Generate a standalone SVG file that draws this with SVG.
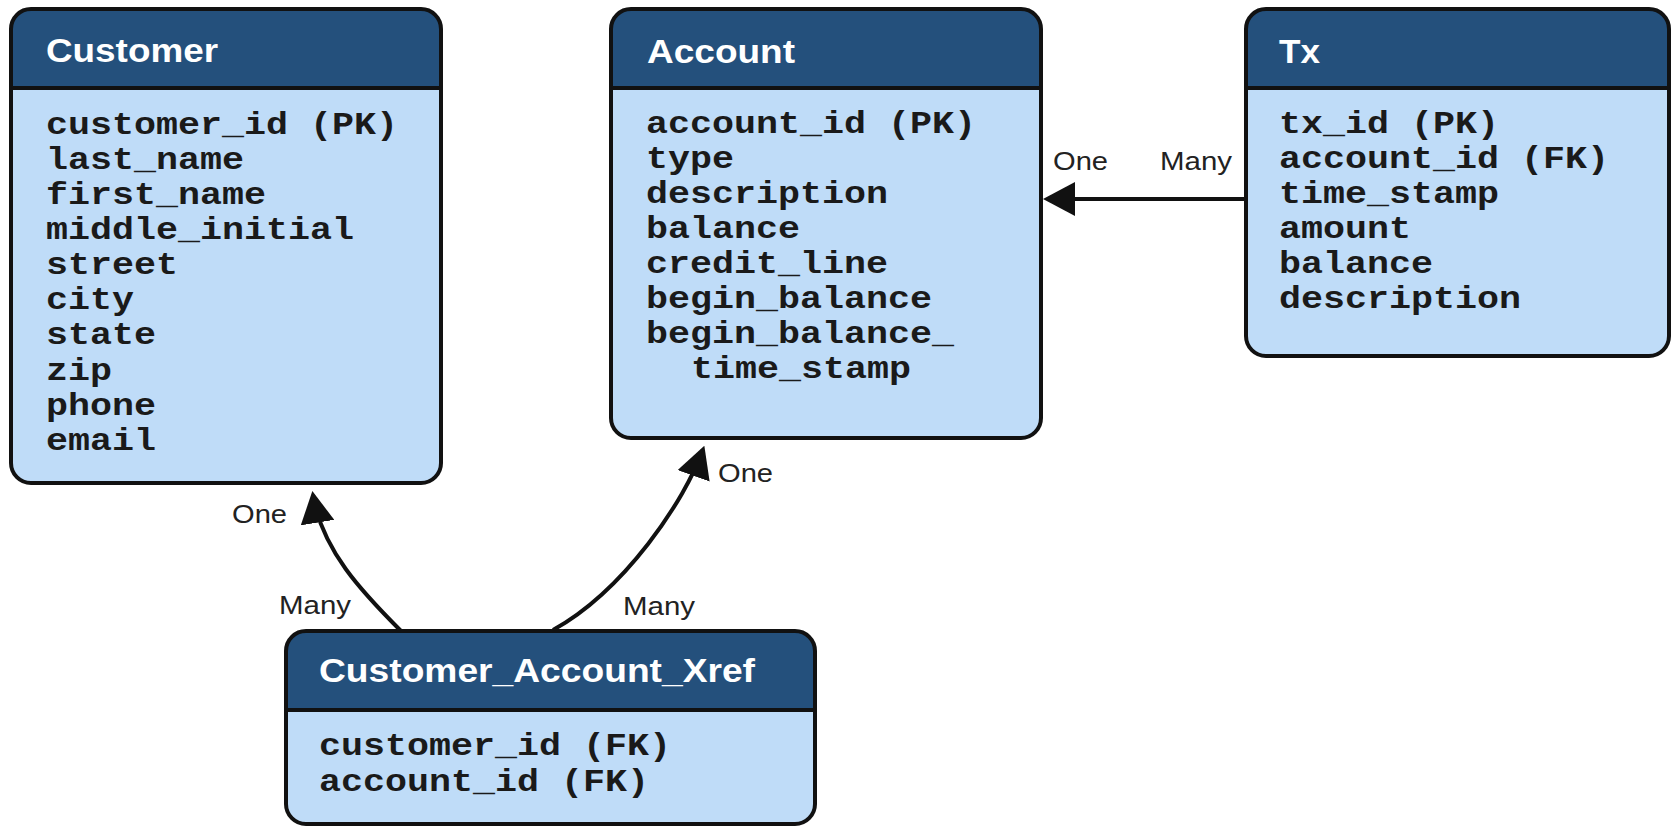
<svg xmlns="http://www.w3.org/2000/svg" width="1673" height="828" viewBox="0 0 1673 828">
<style>
.body{fill:#bfdcf8;stroke:none}
.head{fill:#24507c;stroke:none}
.frame{fill:none;stroke:#111;stroke-width:4}
.div{stroke:#111;stroke-width:4}
.title{font-family:"Liberation Sans",Arial,sans-serif;font-weight:bold;font-size:34px;fill:#fff}
.field{font-family:"Liberation Mono","Courier New",monospace;font-weight:bold;font-size:32px;fill:#1a1a1a}
.lbl{font-family:"Liberation Sans",Arial,sans-serif;font-size:25px;fill:#222}
.conn{fill:none;stroke:#111;stroke-width:4}
</style>
<defs>
<marker id="arr" markerUnits="userSpaceOnUse" markerWidth="32" markerHeight="34" refX="28" refY="17" orient="auto">
<path d="M0,0 L32,17 L0,34 Z" fill="#111"/>
</marker>
</defs>
<rect width="1673" height="828" fill="#fff"/>

<g id="connectors">
<path class="conn" d="M1244,199 L1047,199" marker-end="url(#arr)"/>
<path class="conn" d="M401,631 C362,592 322,550 313,495" marker-end="url(#arr)"/>
<path class="conn" d="M553,630 C625,590 685,500 703,449.5" marker-end="url(#arr)"/>
<text class="lbl" x="1053" y="170" textLength="55" lengthAdjust="spacingAndGlyphs">One</text>
<text class="lbl" x="1160" y="170" textLength="72" lengthAdjust="spacingAndGlyphs">Many</text>
<text class="lbl" x="232" y="523" textLength="55" lengthAdjust="spacingAndGlyphs">One</text>
<text class="lbl" x="279" y="614" textLength="72" lengthAdjust="spacingAndGlyphs">Many</text>
<text class="lbl" x="718" y="482" textLength="55" lengthAdjust="spacingAndGlyphs">One</text>
<text class="lbl" x="623" y="615" textLength="72" lengthAdjust="spacingAndGlyphs">Many</text>
</g>

<g id="customer">
<rect class="body" x="11" y="9" width="430" height="474" rx="20"/>
<path class="head" d="M11,88 V29 A20,20 0 0 1 31,9 H421 A20,20 0 0 1 441,29 V88 Z"/>
<line class="div" x1="11" y1="88" x2="441" y2="88"/>
<rect class="frame" x="11" y="9" width="430" height="474" rx="20"/>
<text class="title" x="46" y="62" textLength="172" lengthAdjust="spacingAndGlyphs">Customer</text>
<text class="field" x="46" y="134" textLength="352" lengthAdjust="spacingAndGlyphs">customer_id (PK)</text>
<text class="field" x="46" y="169" textLength="198" lengthAdjust="spacingAndGlyphs">last_name</text>
<text class="field" x="46" y="204" textLength="220" lengthAdjust="spacingAndGlyphs">first_name</text>
<text class="field" x="46" y="239" textLength="308" lengthAdjust="spacingAndGlyphs">middle_initial</text>
<text class="field" x="46" y="274" textLength="132" lengthAdjust="spacingAndGlyphs">street</text>
<text class="field" x="46" y="309" textLength="88" lengthAdjust="spacingAndGlyphs">city</text>
<text class="field" x="46" y="344" textLength="110" lengthAdjust="spacingAndGlyphs">state</text>
<text class="field" x="46" y="380" textLength="66" lengthAdjust="spacingAndGlyphs">zip</text>
<text class="field" x="46" y="415" textLength="110" lengthAdjust="spacingAndGlyphs">phone</text>
<text class="field" x="46" y="450" textLength="110" lengthAdjust="spacingAndGlyphs">email</text>
</g>

<g id="account">
<rect class="body" x="611" y="9" width="430" height="429" rx="20"/>
<path class="head" d="M611,88 V29 A20,20 0 0 1 631,9 H1021 A20,20 0 0 1 1041,29 V88 Z"/>
<line class="div" x1="611" y1="88" x2="1041" y2="88"/>
<rect class="frame" x="611" y="9" width="430" height="429" rx="20"/>
<text class="title" x="647" y="63" textLength="148" lengthAdjust="spacingAndGlyphs">Account</text>
<text class="field" x="646" y="133" textLength="330" lengthAdjust="spacingAndGlyphs">account_id (PK)</text>
<text class="field" x="646" y="168" textLength="88" lengthAdjust="spacingAndGlyphs">type</text>
<text class="field" x="646" y="203" textLength="242" lengthAdjust="spacingAndGlyphs">description</text>
<text class="field" x="646" y="238" textLength="154" lengthAdjust="spacingAndGlyphs">balance</text>
<text class="field" x="646" y="273" textLength="242" lengthAdjust="spacingAndGlyphs">credit_line</text>
<text class="field" x="646" y="308" textLength="286" lengthAdjust="spacingAndGlyphs">begin_balance</text>
<text class="field" x="646" y="343" textLength="308" lengthAdjust="spacingAndGlyphs">begin_balance_</text>
<text class="field" x="691" y="378" textLength="220" lengthAdjust="spacingAndGlyphs">time_stamp</text>
</g>

<g id="tx">
<rect class="body" x="1246" y="9" width="423" height="347" rx="20"/>
<path class="head" d="M1246,88 V29 A20,20 0 0 1 1266,9 H1649 A20,20 0 0 1 1669,29 V88 Z"/>
<line class="div" x1="1246" y1="88" x2="1669" y2="88"/>
<rect class="frame" x="1246" y="9" width="423" height="347" rx="20"/>
<text class="title" x="1279" y="63" textLength="41" lengthAdjust="spacingAndGlyphs">Tx</text>
<text class="field" x="1279" y="133" textLength="220" lengthAdjust="spacingAndGlyphs">tx_id (PK)</text>
<text class="field" x="1279" y="168" textLength="330" lengthAdjust="spacingAndGlyphs">account_id (FK)</text>
<text class="field" x="1279" y="203" textLength="220" lengthAdjust="spacingAndGlyphs">time_stamp</text>
<text class="field" x="1279" y="238" textLength="132" lengthAdjust="spacingAndGlyphs">amount</text>
<text class="field" x="1279" y="273" textLength="154" lengthAdjust="spacingAndGlyphs">balance</text>
<text class="field" x="1279" y="308" textLength="242" lengthAdjust="spacingAndGlyphs">description</text>
</g>

<g id="customer_account_xref">
<rect class="body" x="286" y="631" width="529" height="193" rx="20"/>
<path class="head" d="M286,710 V651 A20,20 0 0 1 306,631 H795 A20,20 0 0 1 815,651 V710 Z"/>
<line class="div" x1="286" y1="710" x2="815" y2="710"/>
<rect class="frame" x="286" y="631" width="529" height="193" rx="20"/>
<text class="title" x="319" y="682" textLength="436" lengthAdjust="spacingAndGlyphs">Customer_Account_Xref</text>
<text class="field" x="319" y="755" textLength="352" lengthAdjust="spacingAndGlyphs">customer_id (FK)</text>
<text class="field" x="319" y="791" textLength="330" lengthAdjust="spacingAndGlyphs">account_id (FK)</text>
</g>
</svg>
